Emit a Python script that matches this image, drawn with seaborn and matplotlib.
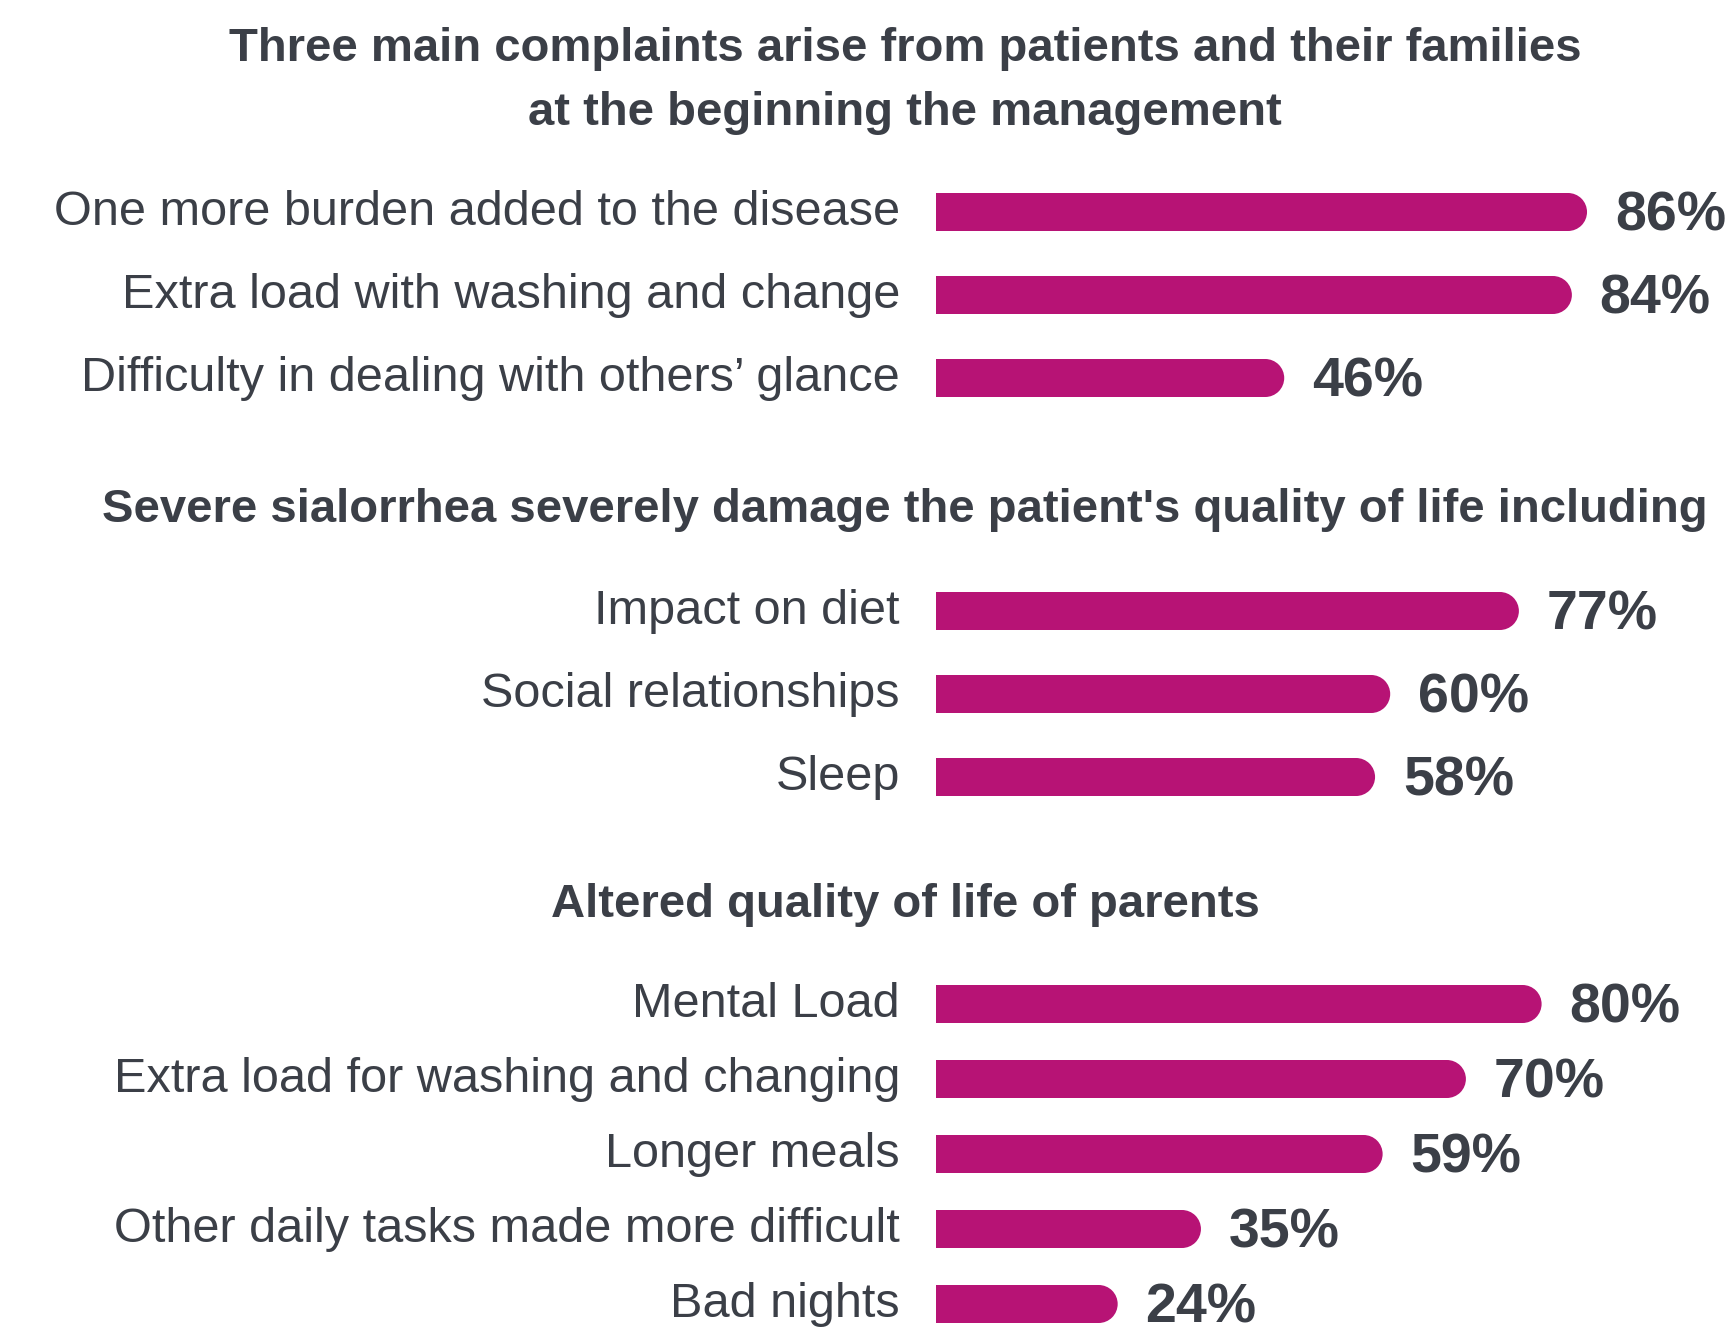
import matplotlib
matplotlib.use("Agg")
import matplotlib.pyplot as plt
import matplotlib.transforms as mtransforms
from matplotlib.patches import Ellipse
import seaborn as sns
import pandas as pd

sns.set_theme(style="white")
plt.rcParams['font.family'] = ['Liberation Sans', 'DejaVu Sans']

# data
title_1 = "Three main complaints arise from patients and their families\nat the beginning the management"
labels_1 = ["One more burden added to the disease",
            "Extra load with washing and change",
            "Difficulty in dealing with others\u2019 glance"]
values_1 = [86, 84, 46]

title_2 = "Severe sialorrhea severely damage the patient's quality of life including"
labels_2 = ["Impact on diet", "Social relationships", "Sleep"]
values_2 = [77, 60, 58]

title_3 = "Altered quality of life of parents"
labels_3 = ["Mental Load",
            "Extra load for washing and changing",
            "Longer meals",
            "Other daily tasks made more difficult",
            "Bad nights"]
values_3 = [80, 70, 59, 35, 24]

bar_color = "#B71375"
text_color = "#3B3F47"

W, H = 1725, 1339
fig = plt.figure(figsize=(W / 100, H / 100), dpi=100)
fig.patch.set_facecolor("white")


def add_section(labels, values, top, spacing):
    n = len(labels)
    ax = fig.add_axes([936 / W, 1 - (top + n * spacing) / H, 757 / W, n * spacing / H])
    df = pd.DataFrame({"label": labels, "value": values})
    bar_h = 38 / spacing
    sns.barplot(data=df, x="value", y="label", color=bar_color, saturation=1,
                width=bar_h, linewidth=0, ax=ax)
    ax.set_xlim(0, 100)
    ax.set_ylim(n - 0.5, -0.5)
    for c in ax.containers:
        texts = ax.bar_label(c, fmt="%g%%", padding=20, fontsize=40, fontweight="bold",
                             color=text_color)
        for t in texts:
            t.xyann = (20, -3)
    # round right ends of the bars
    px_per_x = 757 / 100
    cap_w = 38 / px_per_x
    for p in list(ax.patches):
        y0 = p.get_y()
        w, h = p.get_width(), p.get_height()
        p.set_width(w - cap_w / 2)
        ax.add_patch(Ellipse((w - cap_w / 2, y0 + h / 2), cap_w, h,
                             facecolor=bar_color, edgecolor="none", linewidth=0))
    ax.set_xlabel("")
    ax.set_ylabel("")
    ax.set_xticks([])
    ax.tick_params(axis="y", length=0, pad=26, labelsize=35, labelcolor=text_color)
    shift = mtransforms.ScaledTranslation(0, 3 / 72, fig.dpi_scale_trans)
    for lab in ax.get_yticklabels():
        lab.set_transform(lab.get_transform() + shift)
    sns.despine(ax=ax, left=True, bottom=True)
    ax.set_facecolor("none")
    return ax


add_section(labels_1, values_1, 170.5, 83)
add_section(labels_2, values_2, 569.5, 83)
add_section(labels_3, values_3, 966.5, 75)

tx = 905 / W
fig.text(tx, 1 - 81 / H, title_1, ha="center", va="center", fontsize=34,
         fontweight="bold", color=text_color, linespacing=1.58)
fig.text(tx, 1 - 510 / H, title_2, ha="center", va="center", fontsize=34,
         fontweight="bold", color=text_color)
fig.text(tx, 1 - 905 / H, title_3, ha="center", va="center", fontsize=34,
         fontweight="bold", color=text_color)

fig.savefig("out.png", dpi=100, facecolor="white")
